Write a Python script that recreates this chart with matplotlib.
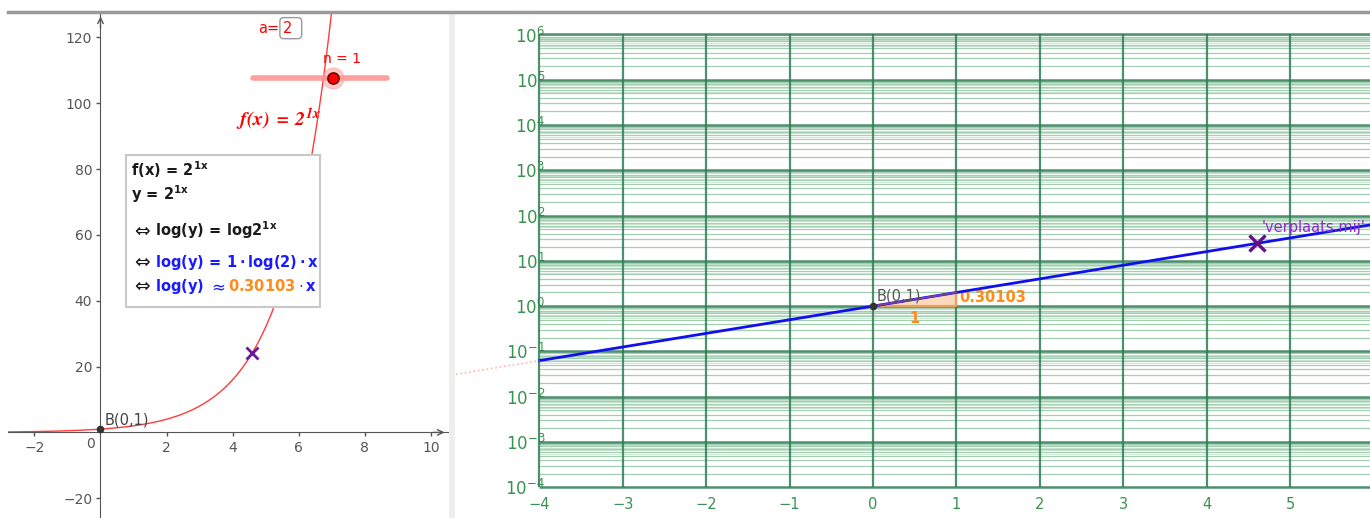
import numpy as np
import matplotlib
matplotlib.use('Agg')
import matplotlib.pyplot as plt
from matplotlib.patches import Rectangle, FancyBboxPatch, Polygon
from matplotlib.lines import Line2D

# ---------------- data ----------------
base_a = 2
n_value = 1
slope = 0.30103
point_B = (0, 1)
move_x = 4.6
left_xticks = [-2, 2, 4, 6, 8, 10]
left_yticks = [-20, 20, 40, 60, 80, 100, 120]
right_xticks = [-4, -3, -2, -1, 0, 1, 2, 3, 4, 5]
right_decades = [-4, -3, -2, -1, 0, 1, 2, 3, 4, 5, 6]
minor_mantissas = [2, 3, 4, 5, 6, 7, 8, 9]
fine_mantissas = [5.5, 6.5, 7.5, 8.5, 9.5]

plt.rcParams['mathtext.fontset'] = 'dejavusans'

W, H = 1370, 518
fig = plt.figure(figsize=(13.7, 5.18), dpi=100)


def fx(px):
    return px / W


def fy(py):
    return 1 - py / H


GRAY = '#555555'
GREEN = '#3a9150'
GRID = '#2e7d55'

# ---------------- frame ----------------
fig.add_artist(Line2D([fx(8), fx(1370)], [fy(12), fy(12)], color='#9a9a9a', lw=2.5))
fig.add_artist(Rectangle((fx(449), fy(518)), fx(6), fy(13) - fy(518), color='#eeeeee', lw=0))

# ---------------- left panel ----------------
axL = fig.add_axes([fx(8), fy(518), fx(449) - fx(8), fy(13) - fy(518)])
axL.set_xlim(-2.80, 10.55)
axL.set_ylim(-26.0, 127.4)
for s in ['top', 'right']:
    axL.spines[s].set_visible(False)
axL.spines['left'].set_position(('data', 0))
axL.spines['bottom'].set_position(('data', 0))
axL.spines['left'].set_color(GRAY)
axL.spines['bottom'].set_color(GRAY)
axL.set_xticks(left_xticks)
axL.set_yticks(left_yticks)
axL.set_xticklabels([str(v).replace('-', '\u2212') for v in left_xticks])
axL.set_yticklabels([str(v).replace('-', '\u2212') for v in left_yticks])
axL.tick_params(colors=GRAY, labelsize=10, length=3, width=1, direction='out', pad=3)
axL.text(-0.3, -3.4, '0', color=GRAY, fontsize=10, ha='center', va='center')
axL.annotate('', xy=(10.5, 0), xytext=(10.0, 0),
             arrowprops=dict(arrowstyle='->', color=GRAY, lw=1.0, mutation_scale=10))
axL.annotate('', xy=(0, 127.2), xytext=(0, 122),
             arrowprops=dict(arrowstyle='->', color=GRAY, lw=1.0, mutation_scale=10))

xs = np.linspace(-2.8, 7.2, 500)
axL.plot(xs, float(base_a) ** (n_value * xs), color='#ff3b3b', lw=1.0)
axL.plot([point_B[0]], [point_B[1]], 'o', color='#333333', ms=4.5, zorder=5)
axL.text(0.12, 3.9, 'B(0,1)', color='#444444', fontsize=10.5, va='center')
axL.plot([move_x], [base_a ** move_x], marker='x', color='#6a1b9a', ms=9, mew=2, zorder=6)

# slider and input box
axL.plot([4.62, 8.67], [107.6, 107.6], color='#ff8080', lw=4, alpha=0.75, solid_capstyle='round')
axL.plot([7.04], [107.6], 'o', color='#ff9999', ms=15, alpha=0.5, zorder=6)
axL.plot([7.04], [107.6], 'o', color='#ff0000', mec='#7a0000', mew=1.2, ms=8, zorder=7)
axL.text(6.75, 113.4, 'n = %d' % n_value, color='#ff0000', fontsize=10, va='center')
axL.text(4.78, 122.6, 'a=', color='#ff0000', fontsize=10.5, va='center')
axL.add_patch(FancyBboxPatch((5.43, 119.6), 0.66, 6.4, boxstyle='round,pad=0,rounding_size=0.12',
                             fc='white', ec='#999999', lw=1.0, mutation_aspect=10))
axL.text(5.52, 122.8, str(base_a), color='#ff0000', fontsize=10.5, va='center')
axL.text(4.10, 94.9, r'$\mathbfit{f(x)\;=\;2^{1x}}$', color='#ff0000', fontsize=14.5, va='center',
         math_fontfamily='stix')

# explanation box
fig.add_artist(Rectangle((fx(126), fy(307)), fx(320) - fx(126), fy(155) - fy(307),
                         fc='white', ec='#c8c8c8', lw=1.5))
renderer = fig.canvas.get_renderer()


def chain(px, py, pieces):
    x = fx(px)
    for s, c, size, gap in pieces:
        t = fig.text(x, fy(py), s, color=c, fontsize=size, va='baseline', ha='left')
        bb = t.get_window_extent(renderer)
        x += (bb.width + gap) / W


BLK = '#1a1a1a'
BLUE = '#1a1aff'
ORNG = '#ff8c1a'
ARR = r'$\Leftrightarrow$'
S = r'\,'
FS = 10.5
chain(131, 176, [(r'$\mathbf{f(x)%s=%s2^{1x}}$' % (S, S), BLK, FS, 0)])
chain(131, 200, [(r'$\mathbf{y%s=%s2^{1x}}$' % (S, S), BLK, FS, 0)])
chain(131, 236, [(ARR, BLK, 13.5, 4), (r'$\mathbf{log(y)%s=%slog2^{1x}}$' % (S, S), BLK, FS, 0)])
chain(131, 267, [(ARR, BLK, 13.5, 4),
                 (r'$\mathbf{log(y)%s=%s1\cdot log(2)\cdot x}$' % (S, S), BLUE, FS, 0)])
chain(131, 291, [(ARR, BLK, 13.5, 4), (r'$\mathbf{log(y)}$', BLUE, FS, 3),
                 (r'$\approx$', BLUE, 12, 3),
                 (r'$\mathbf{%.5f}$' % slope, ORNG, FS, 3), (r'$\cdot\,\mathbf{x}$', BLUE, FS, 0)])

# ---------------- right panel ----------------
x0px = 873.0
ux = 83.4
y0px = 306.0
ud = 45.3
left_lim = -4.03
right_lim = (1370 - x0px) / ux
bot_lim = -4.03
top_lim = -4 + (487.5 - 13) / ud
lpx = x0px + left_lim * ux
bpx = y0px - bot_lim * ud
axR = fig.add_axes([fx(lpx), fy(bpx), fx(1370) - fx(lpx), fy(13) - fy(bpx)])
axR.set_yscale('log')
axR.set_xlim(left_lim, right_lim)
axR.set_ylim(10 ** bot_lim, 10 ** top_lim)
for s in axR.spines.values():
    s.set_visible(False)

ymin, ymax = 10.0 ** right_decades[0], 10.0 ** right_decades[-1]
xmin, xmax = right_xticks[0], 6.5
for k in right_decades[:-1]:
    for m in fine_mantissas:
        axR.hlines(m * 10.0 ** k, xmin, xmax, color='#9fd1ab', lw=0.7, alpha=0.5, zorder=1)
    for m in minor_mantissas:
        axR.hlines(m * 10.0 ** k, xmin, xmax, color='#5aa873', lw=0.9, alpha=0.55, zorder=1)
for k in right_decades:
    axR.hlines(10.0 ** k, xmin, xmax, color=GRID, lw=1.8, alpha=0.85, zorder=2)
for xv in right_xticks + [6]:
    axR.vlines(xv, ymin, ymax, color=GRID, lw=1.6, alpha=0.85, zorder=2)

axR.set_xticks(right_xticks)
axR.set_xticklabels([str(v).replace('-', '\u2212') for v in right_xticks])
axR.set_yticks([10.0 ** k for k in right_decades])
axR.set_yticklabels([r'$10^{%d}$' % k for k in right_decades])
axR.yaxis.set_minor_locator(matplotlib.ticker.NullLocator())
axR.tick_params(axis='x', colors=GREEN, labelsize=10.5, length=0, pad=6)
axR.tick_params(axis='y', colors=GREEN, labelsize=12, length=0, pad=-6)

# line log(y) = slope * x
xl = np.linspace(right_xticks[0], 6.5, 200)
axR.plot(xl, 10 ** (slope * xl), color='#1010ee', lw=2, zorder=5)
xp = np.linspace(-5.0, right_xticks[0], 40)
axR.plot(xp, 10 ** (slope * xp), color='#ffb4a8', lw=1.2, ls=':', clip_on=False, zorder=5)

# slope triangle
tri = Polygon([(0, 1), (1, 1), (1, 10 ** slope)], closed=True, fc='#fcd3b0', ec='none',
              alpha=0.85, zorder=4)
axR.add_patch(tri)
axR.plot([0, 1, 1], [1, 1, 10 ** slope], color='#e8a15a', lw=1.6, zorder=4)
axR.plot([0, 1], [1, 10 ** slope], color='#7a3fa0', lw=1.4, zorder=5)
axR.text(0.5, 10 ** -0.265, '1', color=ORNG, fontsize=10.5, fontweight='bold', ha='center', va='center')
axR.text(1.04, 10 ** 0.18, '%.5f' % slope, color=ORNG, fontsize=10.5, fontweight='bold', va='center')

axR.plot([point_B[0]], [point_B[1]], 'o', color='#333333', ms=4.5, zorder=7)
axR.text(0.04, 10 ** 0.22, 'B(0,1)', color='#555555', fontsize=10.5, va='center', zorder=7)

axR.plot([move_x], [base_a ** move_x], marker='x', color='#5e1189', ms=11, mew=2.4, zorder=8)
axR.text(4.66, 10 ** 1.745, "'verplaats.mij'", color='#8a2cc9', fontsize=10.5, va='center', zorder=8)

fig.savefig('out.png', dpi=100)
